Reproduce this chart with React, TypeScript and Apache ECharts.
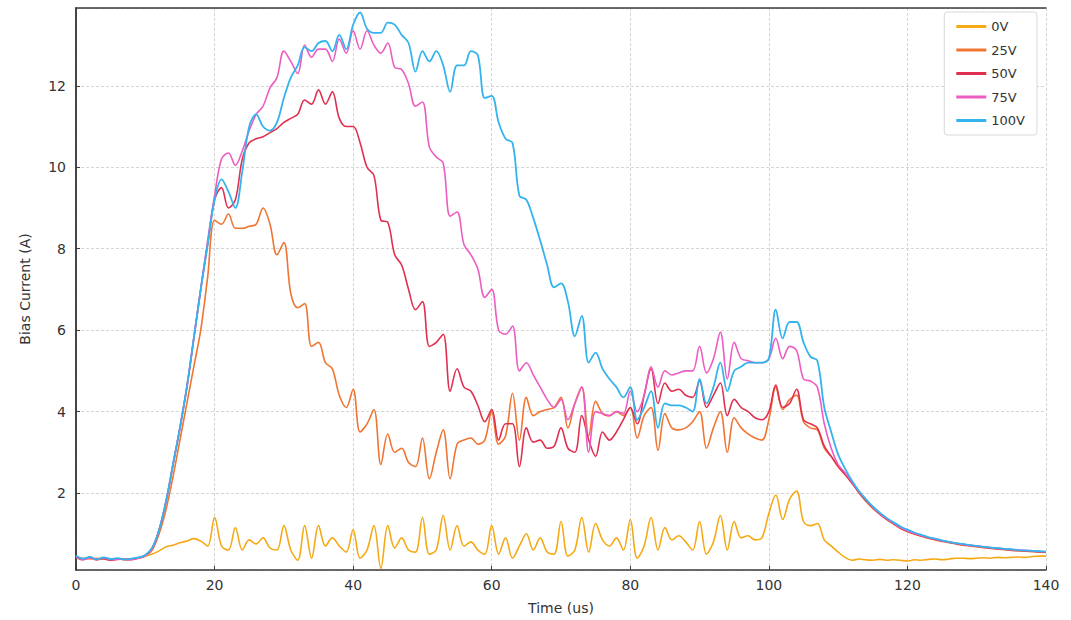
import React, { useEffect, useRef } from "react";
import * as echarts from "echarts";

// time axis: 0..140 us, 1 us step
const times: number[] = Array.from({ length: 141 }, (_, i) => i);

const seriesNames = ["0V", "25V", "50V", "75V", "100V"];
const seriesColors = ["#f5a915", "#f07532", "#e0304f", "#ec5cc2", "#34b3ee"];

const v0: number[] = [
  0.42, 0.4, 0.38, 0.4, 0.38, 0.36, 0.37, 0.38, 0.38, 0.4, 0.45,
  0.5, 0.58, 0.68, 0.72, 0.78, 0.82, 0.88, 0.82, 0.7, 1.4,
  0.7, 0.6, 1.15, 0.6, 0.85, 0.75, 0.9, 0.65, 0.6, 1.2,
  0.6, 0.35, 1.2, 0.4, 1.2, 0.7, 0.9, 0.7, 0.55, 1.1,
  0.4, 0.6, 1.2, 0.15, 1.2, 0.65, 0.9, 0.6, 0.55, 1.4,
  0.5, 0.6, 1.45, 0.6, 1.2, 0.7, 0.8, 0.6, 0.5, 1.2,
  0.5, 0.9, 0.4, 0.7, 1.0, 0.6, 0.9, 0.55, 0.5, 1.3,
  0.45, 0.6, 1.4, 0.55, 1.25, 0.85, 0.7, 0.9, 0.6, 1.35,
  0.4, 0.7, 1.4, 0.6, 1.15, 0.85, 0.95, 0.8, 0.6, 1.3,
  0.5, 0.8, 1.45, 0.6, 1.3, 0.9, 0.95, 0.85, 0.9, 1.5,
  1.95, 1.35, 1.85, 2.05, 1.3, 1.2, 1.25, 0.85, 0.7, 0.55,
  0.42, 0.35, 0.38, 0.36, 0.35, 0.37, 0.35, 0.36, 0.35, 0.33,
  0.36, 0.35, 0.37, 0.38, 0.36, 0.38, 0.4, 0.4, 0.39, 0.4,
  0.41, 0.4, 0.42, 0.41, 0.42, 0.43, 0.42, 0.44, 0.45, 0.45,
];

const v25: number[] = [
  0.45, 0.38, 0.42, 0.36, 0.4, 0.37, 0.39, 0.36, 0.38, 0.4, 0.45,
  0.6, 1.0, 1.6, 2.4, 3.3, 4.2, 5.1, 6.0, 7.3, 8.7,
  8.6, 8.85, 8.5, 8.5, 8.55, 8.6, 9.0, 8.6, 7.85, 8.15,
  6.9, 6.55, 6.65, 5.6, 5.7, 5.2, 5.05, 4.4, 4.1, 4.55,
  3.5, 3.7, 4.05, 2.7, 3.45, 3.0, 3.1, 2.75, 2.65, 3.35,
  2.35, 3.0, 3.55, 2.35, 3.2, 3.3, 3.35, 3.2, 3.3, 4.0,
  3.2, 3.4, 4.45, 3.3, 4.35, 3.9, 4.0, 4.05, 4.1, 4.35,
  3.6, 4.2, 4.6, 3.4, 4.25, 3.95, 3.9, 4.0, 3.9, 4.1,
  3.35, 3.9, 4.1, 3.05, 3.95, 3.6, 3.55, 3.6, 3.75, 4.0,
  3.1, 3.6, 4.0, 3.0, 3.85, 3.6, 3.45, 3.35, 3.3, 3.8,
  4.6, 4.05, 4.3, 4.4, 3.75, 3.6, 3.55, 3.1, 2.9, 2.65,
  2.45, 2.25, 2.0, 1.8, 1.62, 1.48, 1.35, 1.24, 1.13, 1.05,
  0.99, 0.94, 0.89, 0.85, 0.81, 0.78, 0.75, 0.72, 0.7, 0.68,
  0.66, 0.64, 0.62, 0.61, 0.59, 0.58, 0.57, 0.56, 0.55, 0.54,
];

const v50: number[] = [
  0.43, 0.36, 0.41, 0.37, 0.39, 0.35, 0.38, 0.37, 0.36, 0.41, 0.47,
  0.65, 1.1, 1.8, 2.7, 3.6, 4.6, 5.8, 7.0, 8.1, 9.2,
  9.5, 9.0, 9.2, 10.2, 10.6, 10.7, 10.75, 10.85, 10.95, 11.1,
  11.2, 11.3, 11.65, 11.55, 11.9, 11.55, 11.85, 11.2, 11.0, 11.0,
  10.6, 10.0, 9.8, 8.7, 8.65, 7.85, 7.6, 7.0, 6.5, 6.7,
  5.6, 5.7, 5.9, 4.5, 5.05, 4.6, 4.5, 4.15, 3.75, 4.05,
  3.3, 3.7, 3.7, 2.65, 3.6, 3.25, 3.3, 3.1, 3.15, 3.6,
  3.1, 3.0, 3.9, 3.3, 2.9, 3.5, 3.3, 3.5, 3.8, 4.1,
  3.7, 4.4, 5.05, 4.2, 4.7, 4.5, 4.55, 4.4, 4.35, 4.75,
  4.1, 4.4, 4.7, 3.9, 4.3, 4.1, 4.0, 3.85, 3.8, 4.0,
  4.65, 4.1, 4.2, 4.55, 3.8, 3.7, 3.6, 3.15, 2.9, 2.65,
  2.46, 2.24, 2.02, 1.82, 1.64, 1.49, 1.36, 1.25, 1.14, 1.06,
  1.0, 0.95, 0.9, 0.86, 0.82, 0.79, 0.76, 0.73, 0.71, 0.69,
  0.67, 0.65, 0.63, 0.62, 0.6, 0.59, 0.58, 0.57, 0.56, 0.55,
];

const v75: number[] = [
  0.44, 0.37, 0.4, 0.36, 0.41, 0.36, 0.37, 0.38, 0.37, 0.4, 0.46,
  0.65, 1.1, 1.8, 2.7, 3.6, 4.6, 5.8, 7.0, 8.2, 9.3,
  10.2, 10.35, 10.05, 10.4, 10.9, 11.3, 11.5, 11.95, 12.2, 12.85,
  12.6, 12.3, 13.0, 12.7, 12.9, 12.9, 12.6, 13.15, 12.8, 13.35,
  12.9, 13.35, 13.0, 12.8, 13.05, 12.45, 12.4, 12.05, 11.5, 11.6,
  10.5, 10.25, 10.1, 8.8, 8.9, 8.1, 7.85, 7.5, 6.8, 7.0,
  6.0, 5.9, 6.1, 5.0, 5.2, 4.9, 4.6, 4.3, 4.1, 4.3,
  3.8, 4.2, 4.6, 3.0, 4.0, 3.95, 3.9, 4.0, 3.95, 4.5,
  4.0, 4.4, 5.1, 4.6, 5.0, 4.9, 4.95, 5.0, 5.0, 5.6,
  4.95, 5.3, 5.95, 4.8, 5.7, 5.3, 5.25, 5.2, 5.2, 5.3,
  5.8, 5.3, 5.6, 5.5, 4.8, 4.75, 4.6, 3.7, 3.1, 2.7,
  2.5, 2.27, 2.04, 1.84, 1.65, 1.5, 1.37, 1.26, 1.15, 1.07,
  1.01, 0.96, 0.91, 0.87, 0.83, 0.8, 0.77, 0.74, 0.72, 0.7,
  0.68, 0.66, 0.64, 0.63, 0.61, 0.6, 0.59, 0.58, 0.57, 0.56,
];

const v100: number[] = [
  0.46, 0.39, 0.43, 0.37, 0.42, 0.38, 0.4, 0.37, 0.39, 0.42, 0.48,
  0.66, 1.1, 1.8, 2.7, 3.6, 4.6, 5.8, 7.0, 8.1, 9.2,
  9.7, 9.4, 9.0, 9.9, 11.0, 11.3, 11.0, 10.9, 11.1, 11.7,
  12.2, 12.5, 12.95, 12.85, 13.05, 13.1, 12.85, 13.25, 12.9, 13.5,
  13.8, 13.4, 13.3, 13.3, 13.55, 13.5, 13.25, 13.05, 12.35, 12.85,
  12.6, 12.85, 12.5, 11.85, 12.5, 12.5, 12.85, 12.75, 11.7, 11.75,
  11.1, 10.7, 10.6, 9.3, 9.2, 8.75, 8.2, 7.6, 7.05, 7.15,
  6.7, 5.85, 6.35, 5.2, 5.45, 5.05, 4.8, 4.6, 4.35, 4.6,
  3.8, 4.1, 4.5, 3.6, 4.2, 4.15, 4.15, 4.1, 4.0, 4.8,
  4.2, 4.6, 5.2, 4.5, 5.0, 5.1, 5.2, 5.2, 5.2, 5.3,
  6.5, 5.8, 6.2, 6.2, 5.7, 5.35, 5.25, 4.1, 3.5, 2.95,
  2.6, 2.3, 2.05, 1.85, 1.67, 1.52, 1.39, 1.28, 1.18, 1.1,
  1.03, 0.97, 0.92, 0.88, 0.84, 0.8, 0.77, 0.75, 0.72, 0.7,
  0.68, 0.66, 0.65, 0.63, 0.62, 0.6, 0.59, 0.58, 0.57, 0.56,
];

const seriesValues = [v0, v25, v50, v75, v100];
const xTickInterval = 20;

export default function App() {
  const ref = useRef<HTMLDivElement>(null);

  useEffect(() => {
    if (!ref.current) return;
    const chart = echarts.init(ref.current, null, { renderer: "svg" });
    const font = "DejaVu Sans";
    const frameLine = { show: true, lineStyle: { color: "#3a3a3a", width: 1.5 } };
    const splitStyle = { show: true, lineStyle: { color: "#d4d4d4", type: [3, 2], width: 1 } };
    chart.setOption({
      animation: false,
      backgroundColor: "#ffffff",
      textStyle: { fontFamily: font },
      grid: { left: 76, right: 25, top: 8, bottom: 49, show: false },
      legend: {
        orient: "vertical",
        right: 34,
        top: 12,
        data: seriesNames,
        icon: "rect",
        itemWidth: 30,
        itemHeight: 3,
        itemGap: 10.5,
        padding: [8, 12, 8, 12],
        borderColor: "#d8d8d8",
        borderWidth: 1,
        borderRadius: 3,
        backgroundColor: "#ffffff",
        textStyle: { fontFamily: font, fontSize: 13, color: "#333" },
      },
      xAxis: [
        {
          type: "value",
          min: 0,
          max: 140,
          interval: xTickInterval,
          name: "Time (us)",
          nameLocation: "middle",
          nameGap: 31,
          nameTextStyle: { fontFamily: font, fontSize: 14, color: "#333" },
          axisLine: frameLine,
          axisTick: { show: true, inside: true, length: 4, lineStyle: { color: "#3a3a3a" } },
          axisLabel: { fontFamily: font, fontSize: 14, color: "#333", margin: 8 },
          splitLine: splitStyle,
        },
        {
          type: "value",
          position: "top",
          min: 0,
          max: 140,
          interval: xTickInterval,
          axisLine: frameLine,
          axisTick: { show: false },
          axisLabel: { show: false },
          splitLine: { show: false },
        },
      ],
      yAxis: [
        {
          type: "value",
          min: 0.11,
          max: 13.91,
          splitNumber: 7,
          name: "Bias Current (A)",
          nameLocation: "middle",
          nameGap: 44,
          nameTextStyle: { fontFamily: font, fontSize: 14, color: "#333" },
          axisLine: frameLine,
          axisTick: { show: true, inside: true, length: 4, lineStyle: { color: "#3a3a3a" } },
          axisLabel: {
            fontFamily: font,
            fontSize: 14,
            color: "#333",
            margin: 10,
            showMinLabel: false,
            showMaxLabel: false,
          },
          splitLine: splitStyle,
        },
        {
          type: "value",
          position: "right",
          min: 0.11,
          max: 13.91,
          splitNumber: 7,
          axisLine: frameLine,
          axisTick: { show: false },
          axisLabel: { show: false },
          splitLine: { show: false },
        },
      ],
      series: seriesNames.map((name, i) => ({
        name,
        type: "line",
        xAxisIndex: 0,
        yAxisIndex: 0,
        data: times.map((t, j) => [t, seriesValues[i][j]]),
        showSymbol: false,
        smooth: 0.35,
        lineStyle: { color: seriesColors[i], width: i === 4 ? 1.8 : 1.6 },
        itemStyle: { color: seriesColors[i] },
        z: 2 + i,
      })),
    });
    return () => chart.dispose();
  }, []);

  return (
    <div
      ref={ref}
      style={{ position: "fixed", left: 0, top: 0, width: 1071, height: 620 }}
    />
  );
}
